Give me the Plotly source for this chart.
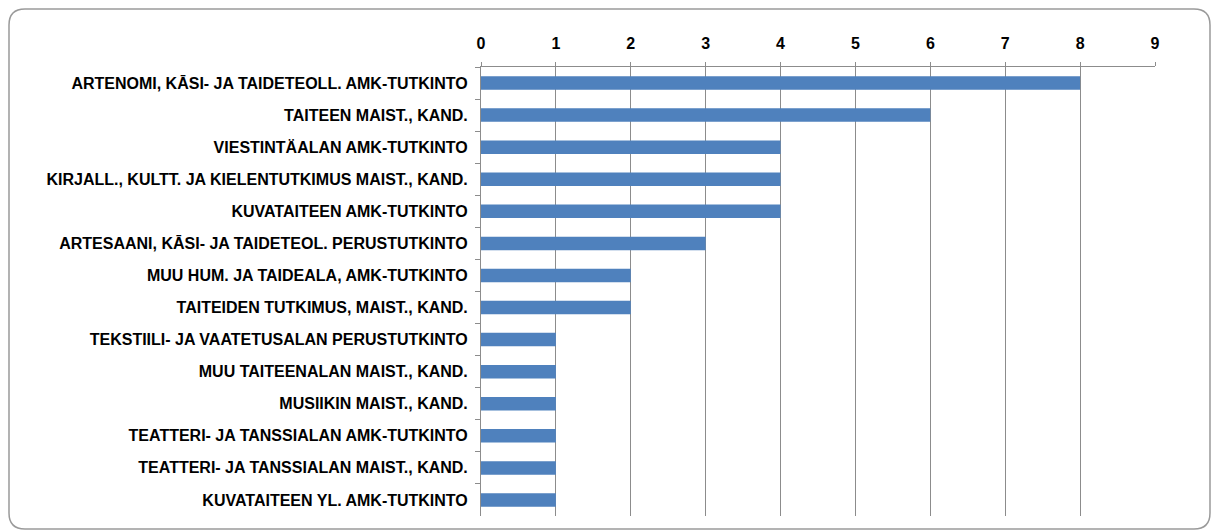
import plotly.graph_objects as go

categories = [
    "ARTENOMI, KĀSI- JA TAIDETEOLL. AMK-TUTKINTO",
    "TAITEEN MAIST., KAND.",
    "VIESTINTÄALAN AMK-TUTKINTO",
    "KIRJALL., KULTT. JA KIELENTUTKIMUS MAIST., KAND.",
    "KUVATAITEEN AMK-TUTKINTO",
    "ARTESAANI, KĀSI- JA TAIDETEOL. PERUSTUTKINTO",
    "MUU HUM. JA TAIDEALA, AMK-TUTKINTO",
    "TAITEIDEN TUTKIMUS, MAIST., KAND.",
    "TEKSTIILI- JA VAATETUSALAN PERUSTUTKINTO",
    "MUU TAITEENALAN MAIST., KAND.",
    "MUSIIKIN MAIST., KAND.",
    "TEATTERI- JA TANSSIALAN AMK-TUTKINTO",
    "TEATTERI- JA TANSSIALAN MAIST., KAND.",
    "KUVATAITEEN YL. AMK-TUTKINTO",
]
values = [8, 6, 4, 4, 4, 3, 2, 2, 1, 1, 1, 1, 1, 1]
x_ticks = [0, 1, 2, 3, 4, 5, 6, 7, 8, 9]

W, H = 1214, 531
ML, MR, MT, MB = 481, W - 1155, 67, H - 516
PW, PH = W - ML - MR, H - MT - MB

fig = go.Figure(go.Bar(
    y=categories, x=values, orientation="h",
    marker=dict(color="#4F81BD", line=dict(width=0)),
    width=0.42,
))

def px2paper(px, py):
    return (px - ML) / PW, 1 - (py - MT) / PH

x0, y0, x1, y1, r = 9, 9, 1210, 529, 16
def P(px, py):
    a, b = px2paper(px, py)
    return f"{a:.5f},{b:.5f}"
path = (f"M {P(x0+r,y0)} L {P(x1-r,y0)} Q {P(x1,y0)} {P(x1,y0+r)} "
        f"L {P(x1,y1-r)} Q {P(x1,y1)} {P(x1-r,y1)} L {P(x0+r,y1)} "
        f"Q {P(x0,y1)} {P(x0,y1-r)} L {P(x0,y0+r)} Q {P(x0,y0)} {P(x0+r,y0)} Z")

fig.update_layout(
    width=W, height=H,
    margin=dict(l=ML, r=MR, t=MT, b=MB),
    paper_bgcolor="white", plot_bgcolor="white",
    showlegend=False,
    font=dict(family="Liberation Sans, Arial", color="black"),
    xaxis=dict(
        side="top", range=[0, 9], tickvals=x_ticks,
        showgrid=True, gridcolor="#8c8c8c", gridwidth=1,
        showline=True, linecolor="#8c8c8c", linewidth=1,
        ticks="outside", ticklen=4, tickcolor="#8c8c8c",
        tickfont=dict(size=16, family="Liberation Sans, Arial", weight="bold"),
        ticklabelstandoff=7,
        zeroline=False, fixedrange=True,
    ),
    yaxis=dict(
        autorange="reversed", categoryorder="array", categoryarray=categories,
        showline=True, linecolor="#8c8c8c", linewidth=1,
        ticks="outside", ticklen=5, tickcolor="#8c8c8c", tickson="boundaries",
        tickfont=dict(size=16, family="Liberation Sans, Arial", weight="bold"),
        ticklabelstandoff=9,
        showgrid=False, zeroline=False, fixedrange=True,
    ),
    shapes=[dict(type="path", path=path, xref="paper", yref="paper",
                 line=dict(color="#9a9a9a", width=1.5), layer="below")],
)

fig.write_html(
    "out.html",
    config={"displayModeBar": False},
    post_script="document.body.style.margin='0';document.body.style.padding='0';",
)
